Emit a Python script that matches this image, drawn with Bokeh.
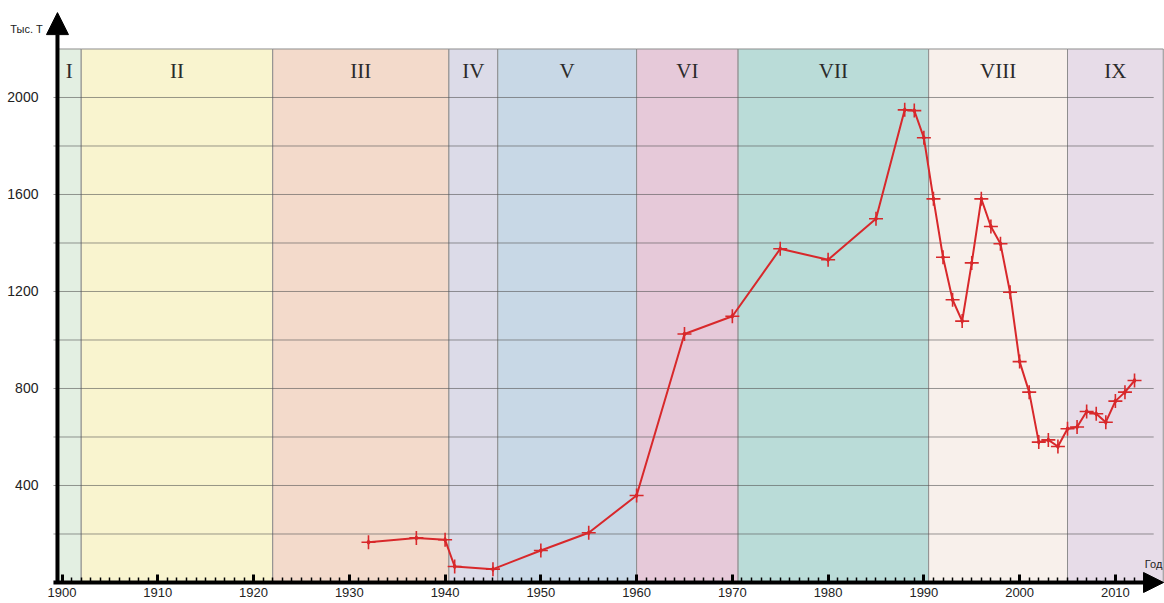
from bokeh.plotting import figure
from bokeh.models import (ColumnDataSource, Label, Arrow, NormalHead,
                          SingleIntervalTicker, FixedTicker)
from bokeh.core.properties import value
from bokeh.embed import file_html
from bokeh.resources import INLINE

# ---- data ----
years = [1932, 1937, 1940, 1941, 1945, 1950, 1955, 1960, 1965, 1970, 1975, 1980,
         1985, 1988, 1989, 1990, 1991, 1992, 1993, 1994, 1995, 1996, 1997, 1998,
         1999, 2000, 2001, 2002, 2003, 2004, 2005, 2006, 2007, 2008, 2009, 2010,
         2011, 2012]
output = [166, 184, 176, 66, 55, 132, 205, 359, 1025, 1098, 1376, 1331,
          1500, 1949, 1946, 1834, 1582, 1341, 1166, 1078, 1318, 1582, 1468, 1397,
          1197, 911, 785, 579, 588, 561, 634, 641, 705, 696, 661, 748,
          785, 833]

period_names = ["I", "II", "III", "IV", "V", "VI", "VII", "VIII", "IX"]
period_start = [1899.5, 1902, 1922, 1940.4, 1945.5, 1960, 1970.6, 1990.5, 2005]
period_end = [1902, 1922, 1940.4, 1945.5, 1960, 1970.6, 1990.5, 2005, 2015]
period_colors = ["#e3efe2", "#f9f4cf", "#f3dacb", "#dcdbe8", "#c8d8e6",
                 "#e6c9d9", "#badcd8", "#f8f0eb", "#e7dce8"]

y_tick_labels = [400, 800, 1200, 1600, 2000]
y_grid_values = [200, 400, 600, 800, 1000, 1200, 1400, 1600, 1800, 2000]

# ---- layout constants ----
X0, X1 = 1893.57, 2015.13
Y0, Y1 = -86.6, 2400
AXIS_X = 1899.52
BAND_TOP = 2200
LABEL_Y = 2111
RED = "#d8282b"

p = figure(width=1164, height=603, output_backend="svg", toolbar_location=None,
           x_range=(X0, X1), y_range=(Y0, Y1),
           min_border_left=0, min_border_right=0, min_border_top=0,
           min_border_bottom=0)
p.outline_line_color = None
p.xgrid.visible = False
p.ygrid.visible = False

# periods
src = ColumnDataSource(dict(left=period_start, right=period_end,
                            color=period_colors, name=period_names,
                            center=[(a + b) / 2 for a, b in zip(period_start, period_end)]))
p.quad(left="left", right="right", bottom=0, top=BAND_TOP, fill_color="color",
       line_color="#8e8e8e", line_width=1, source=src)
p.text(x="center", y=LABEL_Y, text="name", source=src,
       text_font=value("Liberation Serif"), text_font_size="21px",
       text_align="center", text_baseline="middle", text_color="#2b2b2b")

# horizontal grid lines
p.segment(x0=1899.1, x1=2014.0, y0=y_grid_values, y1=y_grid_values,
          line_color="#555555", line_alpha=0.6, line_width=1)

# series
p.line(years, output, line_color=RED, line_width=2)
p.scatter(years, output, marker="cross", size=14, line_color=RED, line_width=1.6)
p.scatter(years, output, marker="diamond", size=5, fill_color=RED, line_color=RED)

# y axis
p.yaxis.fixed_location = AXIS_X
p.yaxis.ticker = FixedTicker(ticks=y_tick_labels)
p.yaxis.axis_line_color = None
p.yaxis.major_tick_line_color = None
p.yaxis.minor_tick_line_color = None
p.yaxis.major_label_standoff = 13
p.yaxis.major_label_text_font = "Liberation Sans"
p.yaxis.major_label_text_font_size = "14px"
p.yaxis.major_label_text_color = "#222222"

# x axis
p.xaxis.fixed_location = 0
p.xaxis.bounds = (1899.5, 2013.6)
p.xaxis.ticker = SingleIntervalTicker(interval=10, num_minor_ticks=10)
p.xaxis.axis_line_color = None
p.xaxis.major_tick_in = 8
p.xaxis.major_tick_out = 0
p.xaxis.major_tick_line_width = 3
p.xaxis.major_tick_line_color = "black"
p.xaxis.minor_tick_in = 5
p.xaxis.minor_tick_out = 0
p.xaxis.minor_tick_line_width = 1.5
p.xaxis.minor_tick_line_color = "black"
p.xaxis.major_label_standoff = 6
p.xaxis.major_label_text_font = "Liberation Sans"
p.xaxis.major_label_text_font_size = "13px"
p.xaxis.major_label_text_color = "#222222"

# axis arrows
p.add_layout(Arrow(x_start=AXIS_X, y_start=-4, x_end=AXIS_X, y_end=2350,
                   line_width=4, line_color="black",
                   end=NormalHead(size=22, fill_color="black", line_color="black")))
p.add_layout(Arrow(x_start=1899.1, y_start=0, x_end=2015.03, y_end=0,
                   line_width=4, line_color="black",
                   end=NormalHead(size=20, fill_color="black", line_color="black")))

p.add_layout(Label(x=1894.6, y=2284, text="Тыс. Т", text_font="Liberation Sans",
                   text_font_size="11px", text_baseline="middle", text_color="#222222"))
p.add_layout(Label(x=2014.9, y=78, text="Год", text_font="Liberation Sans",
                   text_font_size="11px", text_align="right", text_baseline="middle",
                   text_color="#222222"))

open("out.html", "w").write(file_html(p, INLINE))
